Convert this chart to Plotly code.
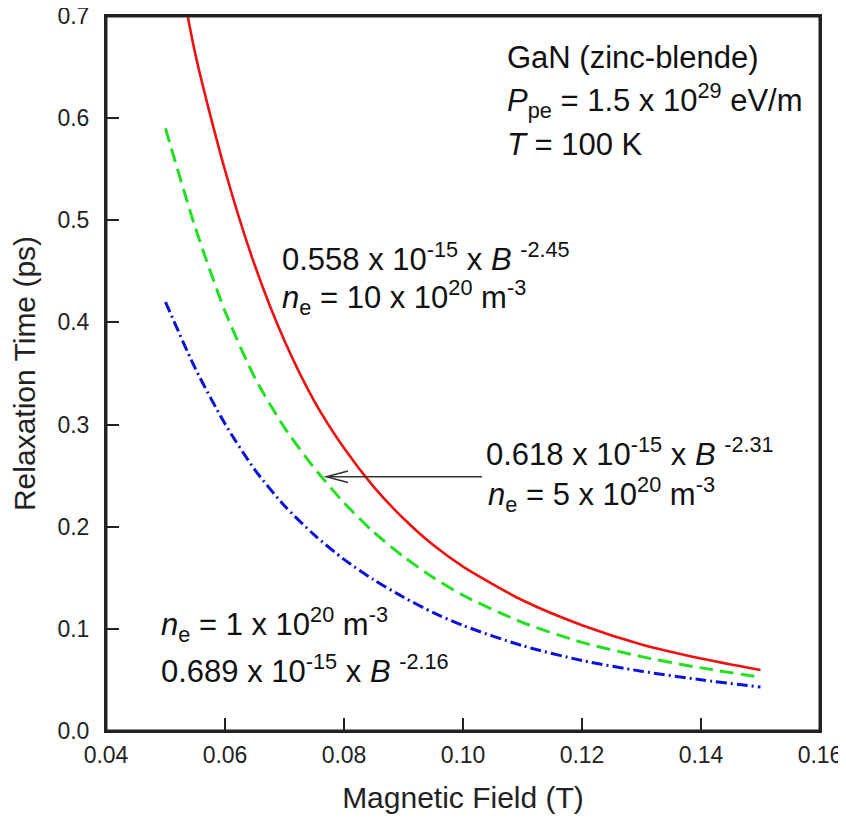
import plotly.graph_objects as go

# ---- data ----
field_T = [0.05, 0.055, 0.06, 0.065, 0.07, 0.075, 0.08, 0.085, 0.09, 0.095,
           0.10, 0.11, 0.12, 0.13, 0.14, 0.15]
tau_ne10 = [0.82, 0.663, 0.549, 0.456, 0.382, 0.323, 0.277, 0.239, 0.208, 0.182,
            0.161, 0.128, 0.1036, 0.0848, 0.071, 0.0597]
tau_ne5 = [0.59, 0.493, 0.411, 0.346, 0.297, 0.2575, 0.2235, 0.1946, 0.1708, 0.1502,
           0.1329, 0.1062, 0.0868, 0.0728, 0.0618, 0.0526]
tau_ne1 = [0.42, 0.355, 0.3007, 0.2559, 0.2205, 0.192, 0.168, 0.1481, 0.131, 0.1159,
           0.1033, 0.0835, 0.069, 0.0585, 0.0501, 0.043]

x_ticks = [0.04, 0.06, 0.08, 0.10, 0.12, 0.14, 0.16]
y_ticks = [0.0, 0.1, 0.2, 0.3, 0.4, 0.5, 0.6, 0.7]

FONT = "Liberation Sans, Arial, sans-serif"

# the page has an 8px body margin
OFF = 8
W, H = 846 - OFF, 829 - 2 * OFF
# plot-area geometry in page pixels (for placing text)
L, R, T, B = 106, 820, 16, 731
X0, X1, Y0, Y1 = 0.04, 0.16, 0.0, 0.7


def px2x(px):
    return X0 + (px - L) / (R - L) * (X1 - X0)


def py2y(py):
    return Y0 + (B - py) / (B - T) * (Y1 - Y0)


fig = go.Figure()
fig.add_trace(go.Scatter(x=field_T, y=tau_ne10, mode="lines",
                         line=dict(color="#F01010", width=2.6, shape="spline", smoothing=0.7),
                         showlegend=False))
fig.add_trace(go.Scatter(x=field_T, y=tau_ne5, mode="lines",
                         line=dict(color="#22E022", width=3, dash="14px,7px", shape="spline", smoothing=0.7),
                         showlegend=False))
fig.add_trace(go.Scatter(x=field_T, y=tau_ne1, mode="lines",
                         line=dict(color="#0A14D8", width=3, dash="11px,4px,2px,4px", shape="spline", smoothing=0.7),
                         showlegend=False))

ann_font = dict(family=FONT, size=31, color="#111111")


def add_text(text, px, pycenter):
    fig.add_annotation(x=px2x(px), y=py2y(pycenter), xref="x", yref="y",
                       text=text, showarrow=False, xanchor="left", yanchor="middle",
                       font=ann_font)


# top-right block
add_text("GaN (zinc-blende)", 505, 57)
add_text("<i>P</i><sub>pe</sub> = 1.5 x 10<sup>29</sup> eV/m", 505, 100)
add_text("<i>T</i> = 100 K", 505, 144)

# red curve label
add_text("0.558 x 10<sup>-15</sup> x <i>B</i> <sup>-2.45</sup>", 280, 257)
add_text("<i>n</i><sub>e</sub> = 10 x 10<sup>20</sup> m<sup>-3</sup>", 280, 297)

# green curve label
add_text("0.618 x 10<sup>-15</sup> x <i>B</i> <sup>-2.31</sup>", 484, 452)
add_text("<i>n</i><sub>e</sub> = 5 x 10<sup>20</sup> m<sup>-3</sup>", 486, 494)

# blue curve label
add_text("<i>n</i><sub>e</sub> = 1 x 10<sup>20</sup> m<sup>-3</sup>", 159, 624)
add_text("0.689 x 10<sup>-15</sup> x <i>B</i> <sup>-2.16</sup>", 159, 669)

# arrow pointing to green curve
ay = py2y(476.7)
tipx = px2x(326.5)
fig.add_shape(type="line", xref="x", yref="y", x0=px2x(482), y0=ay, x1=tipx, y1=ay,
              line=dict(color="#333333", width=1.6))
fig.add_shape(type="path", xref="x", yref="y",
              path=f"M {px2x(348)},{py2y(471)} L {tipx},{ay} L {px2x(348)},{py2y(482.5)}",
              line=dict(color="#333333", width=1.6))

# plot frame at the axis limits
fig.add_shape(type="rect", xref="x", yref="y", x0=X0, y0=Y0, x1=X1, y1=Y1,
              line=dict(color="#222222", width=3), layer="above")

axis_common = dict(showline=True, linecolor="#222222", linewidth=2, mirror=True,
                   ticks="inside", ticklen=13, tickwidth=2, tickcolor="#222222",
                   showgrid=False, zeroline=False, ticklabeloverflow="allow",
                   tickfont=dict(family=FONT, size=23, color="#222222"))

fig.update_xaxes(range=[X0, X1], tickvals=x_ticks,
                 ticktext=[f"{v:.2f}" for v in x_ticks],
                 title=dict(text="Magnetic Field (T)", font=dict(family=FONT, size=30, color="#222222"),
                            standoff=20),
                 ticklabelstandoff=2, **axis_common)
fig.update_yaxes(range=[Y0, Y1], tickvals=y_ticks,
                 ticktext=[f"{v:.1f}" for v in y_ticks],
                 title=dict(text="Relaxation Time (ps)", font=dict(family=FONT, size=30, color="#222222"),
                            standoff=14),
                 ticklabelstandoff=10, **axis_common)

fig.update_layout(width=W, height=H,
                  margin=dict(l=L - OFF, r=W - (R - OFF), t=T - OFF, b=H - (B - OFF), autoexpand=False),
                  paper_bgcolor="white", plot_bgcolor="white",
                  font=dict(family=FONT))

fig.write_html("out.html")
